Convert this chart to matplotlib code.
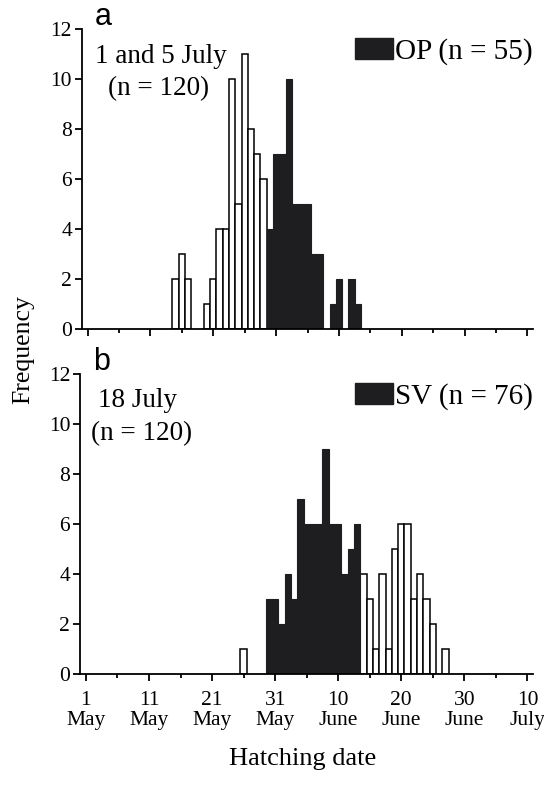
import matplotlib.pyplot as plt
from matplotlib.patches import Patch
from matplotlib.ticker import MultipleLocator

# days counted from 1 May (day 0)
days_a_white = [14, 15, 16, 19, 20, 21, 22, 23, 24, 25, 26, 27, 28]
freq_a_white = [2, 3, 2, 1, 2, 4, 4, 10, 5, 11, 8, 7, 6]
days_a_op = [29, 30, 31, 32, 33, 34, 35, 36, 37, 39, 40, 42, 43]
freq_a_op = [4, 7, 7, 10, 5, 5, 5, 3, 3, 1, 2, 2, 1]

days_b_white = [25, 44, 45, 46, 47, 48, 49, 50, 51, 52, 53, 54, 55, 57]
freq_b_white = [1, 4, 3, 1, 4, 1, 5, 6, 6, 3, 4, 3, 2, 1]
days_b_sv = [29, 30, 31, 32, 33, 34, 35, 36, 37, 38, 39, 40, 41, 42, 43]
freq_b_sv = [3, 3, 2, 4, 3, 7, 6, 6, 6, 9, 6, 6, 4, 5, 6]

tick_days = [0, 10, 20, 30, 40, 50, 60, 70]
tick_labels = ['1\nMay', '11\nMay', '21\nMay', '31\nMay',
               '10\nJune', '20\nJune', '30\nJune', '10\nJuly']

serif = 'Liberation Serif'
sans = 'Liberation Sans'
plt.rcParams['font.family'] = serif
dark = '#1e1e20'

fig = plt.figure(figsize=(5.44, 7.86), dpi=100)
ax1 = fig.add_axes([0.150, 0.5814, 0.830, 0.3817])
ax2 = fig.add_axes([0.147, 0.1425, 0.833, 0.3817])


def style_axis(ax):
    ax.set_xlim(-0.95, 70.9)
    ax.set_ylim(0, 12)
    ax.spines['top'].set_visible(False)
    ax.spines['right'].set_visible(False)
    ax.spines['left'].set_linewidth(1.3)
    ax.spines['bottom'].set_linewidth(1.3)
    ax.set_yticks([0, 2, 4, 6, 8, 10, 12])
    ax.set_xticks(tick_days)
    ax.xaxis.set_minor_locator(MultipleLocator(5))
    ax.tick_params(axis='both', which='major', direction='out', length=5,
                   width=1.3, labelsize=15.5, pad=2)
    ax.tick_params(axis='x', which='minor', direction='out', length=3, width=1.3)


def add_legend(ax, label):
    ax.legend(handles=[Patch(fc=dark, ec=dark)], labels=[label],
              loc='upper right', bbox_to_anchor=(1.0, 0.97), frameon=False,
              fontsize=21, handlelength=1.3, handleheight=0.75, handletextpad=0.08,
              borderpad=0, borderaxespad=0)


# panel a
ax1.bar(days_a_white, freq_a_white, width=1, color='white', edgecolor='black', linewidth=1.1)
ax1.bar(days_a_op, freq_a_op, width=1, color=dark, edgecolor=dark, linewidth=0.8)
style_axis(ax1)
ax1.set_xticklabels([])
ax1.text(0.03, 1.013, 'a', transform=ax1.transAxes, family=sans, fontsize=22)
ax1.text(0.03, 0.887, '1 and 5 July', transform=ax1.transAxes, fontsize=19.5)
ax1.text(0.058, 0.78, '(n = 120)', transform=ax1.transAxes, fontsize=19.5)
add_legend(ax1, 'OP (n = 55)')

# panel b
ax2.bar(days_b_white, freq_b_white, width=1, color='white', edgecolor='black', linewidth=1.1)
ax2.bar(days_b_sv, freq_b_sv, width=1, color=dark, edgecolor=dark, linewidth=0.8)
style_axis(ax2)
ax2.set_xticklabels(tick_labels, linespacing=1.1)
ax2.tick_params(axis='x', which='major', pad=7)
ax2.text(0.03, 1.013, 'b', transform=ax2.transAxes, family=sans, fontsize=22)
ax2.text(0.04, 0.89, '18 July', transform=ax2.transAxes, fontsize=19.5)
ax2.text(0.025, 0.78, '(n = 120)', transform=ax2.transAxes, fontsize=19.5)
add_legend(ax2, 'SV (n = 76)')

fig.text(0.042, 0.555, 'Frequency', rotation=90, va='center', ha='center', fontsize=18.5)
fig.text(0.557, 0.027, 'Hatching date', ha='center', va='baseline', fontsize=19)

fig.savefig('out.png', dpi=100)
